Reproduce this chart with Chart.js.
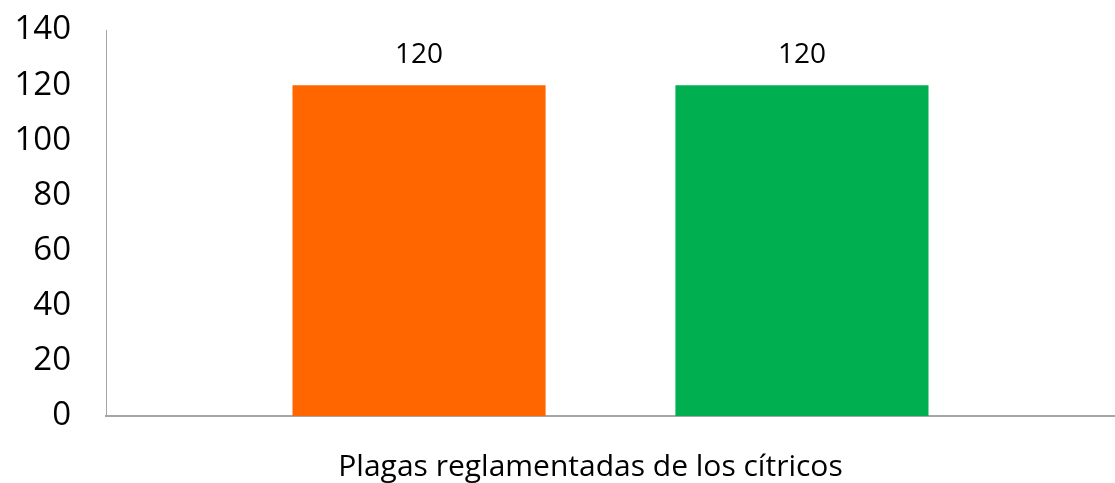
<!DOCTYPE html>
<html>
<head>
<meta charset="utf-8">
<script src="https://cdn.jsdelivr.net/npm/chart.js@4"></script>
<style>
  html, body { margin: 0; padding: 0; background: #fff; }
  #wrap { width: 1115px; height: 483px; }
</style>
</head>
<body>
<div id="wrap"><canvas id="c" width="1115" height="483"></canvas></div>
<script>
const categories = ["Plagas reglamentadas de los cítricos"];
const seriesA = [120];
const seriesB = [120];
const yTicks = [0, 20, 40, 60, 80, 100, 120, 140];
const colors = ["#FF6600", "#00B050"];

const FONT = "'Open Sans', sans-serif";

const labelPlugin = {
  id: 'barLabels',
  afterDatasetsDraw(chart) {
    const ctx = chart.ctx;
    ctx.save();
    ctx.font = "28px " + FONT;
    ctx.fillStyle = "#000";
    ctx.textAlign = "center";
    ctx.textBaseline = "middle";
    chart.data.datasets.forEach((ds, i) => {
      const meta = chart.getDatasetMeta(i);
      meta.data.forEach((bar, j) => {
        ctx.fillText(String(ds.data[j]), bar.x, bar.y - 30);
      });
    });
    ctx.restore();
  }
};

new Chart(document.getElementById('c'), {
  type: 'bar',
  data: {
    labels: categories,
    datasets: [
      { label: 'A', data: seriesA, backgroundColor: colors[0] },
      { label: 'B', data: seriesB, backgroundColor: colors[1] }
    ]
  },
  options: {
    responsive: false,
    animation: false,
    devicePixelRatio: 1,
    categoryPercentage: 0.759,
    barPercentage: 0.661,
    layout: { padding: { top: 30, left: 14, right: 0, bottom: 0 } },
    plugins: { legend: { display: false }, tooltip: { enabled: false } },
    scales: {
      x: {
        grid: { display: false, drawTicks: false },
        border: { color: '#A6A6A6', width: 2 },
        afterFit(scale) { scale.height = 67; scale.paddingLeft = 0; scale.paddingRight = 0; },
        ticks: {
          font: { family: FONT, size: 30 },
          color: '#000',
          padding: 33,
          labelOffset: -20,
          maxRotation: 0
        }
      },
      y: {
        min: 0, max: 140,
        afterBuildTicks(scale) { scale.ticks = yTicks.map(v => ({ value: v })); },
        afterFit(scale) { scale.width = 92; scale.paddingTop = 0; scale.paddingBottom = 0; },
        grid: { display: false, drawTicks: false },
        border: { color: '#A6A6A6', width: 1 },
        ticks: {
          font: { family: FONT, size: 33 },
          color: '#000',
          padding: 35
        }
      }
    }
  },
  plugins: [labelPlugin]
});
</script>
</body>
</html>
